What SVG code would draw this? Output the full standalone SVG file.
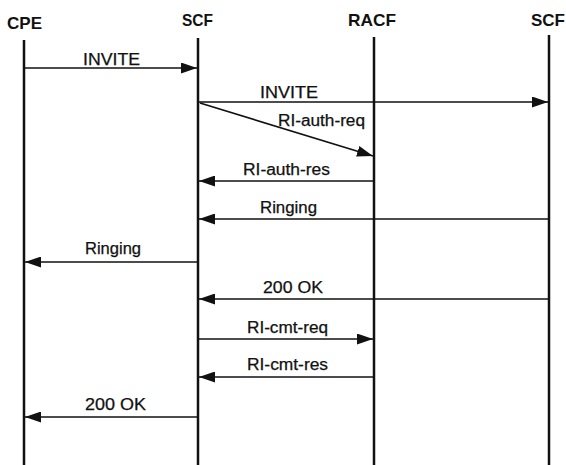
<svg xmlns="http://www.w3.org/2000/svg" width="566" height="465" viewBox="0 0 566 465">
<style>
.t{font-family:"Liberation Sans",Arial,sans-serif;font-size:17px;font-weight:bold;fill:#111}
.l{font-family:"Liberation Sans",Arial,sans-serif;font-size:16px;fill:#111;stroke:#111;stroke-width:0.25}
.life{stroke:#111;stroke-width:2.5;fill:none}
.m{stroke:#111;stroke-width:1.6;fill:none;marker-end:url(#ah)}
</style>
<defs>
<marker id="ah" markerUnits="userSpaceOnUse" markerWidth="17" markerHeight="11" refX="16" refY="5.5" orient="auto">
<path d="M0,0 L16,5.5 L0,11 Z" fill="#111"/>
</marker>
</defs>
<rect width="566" height="465" fill="#fff"/>
<g id="cpe"><text class="t" x="7" y="29" textLength="35" lengthAdjust="spacingAndGlyphs">CPE</text><line class="life" x1="24" y1="40" x2="24" y2="465"/></g>
<g id="scf1"><text class="t" x="182" y="26" textLength="31" lengthAdjust="spacingAndGlyphs">SCF</text><line class="life" x1="198" y1="38" x2="198" y2="465"/></g>
<g id="racf"><text class="t" x="348" y="26" textLength="48" lengthAdjust="spacingAndGlyphs">RACF</text><line class="life" x1="374" y1="37" x2="374" y2="465"/></g>
<g id="scf2"><text class="t" x="531" y="26" textLength="34" lengthAdjust="spacingAndGlyphs">SCF</text><line class="life" x1="549" y1="35" x2="549" y2="465"/></g>
<g id="connectors">
<line class="m" x1="24" y1="68" x2="197" y2="68"/>
<line class="m" x1="198" y1="102" x2="548" y2="102"/>
<line class="m" x1="200" y1="103" x2="373" y2="156"/>
<line class="m" x1="374" y1="181" x2="199" y2="181"/>
<line class="m" x1="549" y1="219" x2="199" y2="219"/>
<line class="m" x1="198" y1="262" x2="25" y2="262"/>
<line class="m" x1="549" y1="299" x2="199" y2="299"/>
<line class="m" x1="198" y1="339" x2="373" y2="339"/>
<line class="m" x1="374" y1="377" x2="199" y2="377"/>
<line class="m" x1="198" y1="417" x2="25" y2="417"/>
<text class="l" x="83" y="65" textLength="57" lengthAdjust="spacingAndGlyphs">INVITE</text>
<text class="l" x="260" y="98" textLength="58" lengthAdjust="spacingAndGlyphs">INVITE</text>
<text class="l" x="278" y="126" textLength="87" lengthAdjust="spacingAndGlyphs">RI-auth-req</text>
<text class="l" x="243" y="175" textLength="87" lengthAdjust="spacingAndGlyphs">RI-auth-res</text>
<text class="l" x="260" y="213" textLength="57" lengthAdjust="spacingAndGlyphs">Ringing</text>
<text class="l" x="85" y="254" textLength="56" lengthAdjust="spacingAndGlyphs">Ringing</text>
<text class="l" x="263" y="293" textLength="60" lengthAdjust="spacingAndGlyphs">200 OK</text>
<text class="l" x="247" y="333" textLength="81" lengthAdjust="spacingAndGlyphs">RI-cmt-req</text>
<text class="l" x="247" y="370" textLength="81" lengthAdjust="spacingAndGlyphs">RI-cmt-res</text>
<text class="l" x="85" y="410" textLength="61" lengthAdjust="spacingAndGlyphs">200 OK</text>
</g>
</svg>
